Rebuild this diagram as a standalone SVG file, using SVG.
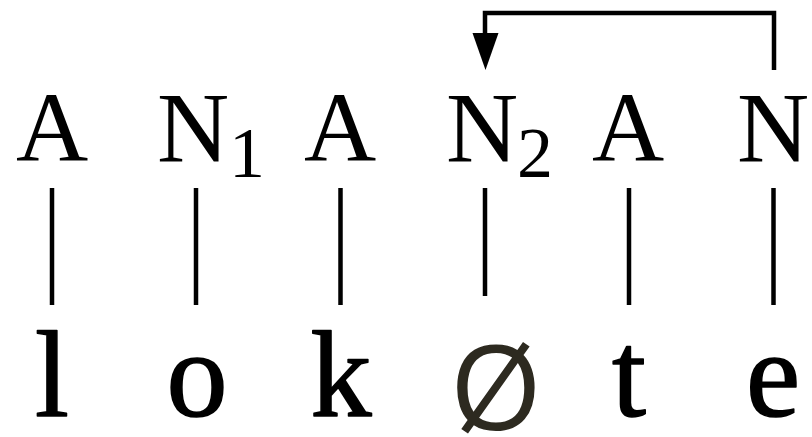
<svg xmlns="http://www.w3.org/2000/svg" width="812" height="437" viewBox="0 0 812 437">
<style>
.top{font-family:"Liberation Serif","Times New Roman",serif;font-size:100px;fill:#000;text-anchor:middle}
.sub{font-family:"Liberation Serif","Times New Roman",serif;font-size:72px;fill:#000;text-anchor:middle}
.bot{font-family:"Liberation Serif","Times New Roman",serif;font-size:122px;fill:#000;stroke:#000;stroke-width:1.6;stroke-linejoin:round;text-anchor:middle}
.null{font-family:"Open Sans","Noto Sans",sans-serif;font-size:118px;fill:#2d2a20;text-anchor:middle}
.ln{stroke:#000;stroke-width:4.5;fill:none}
</style>
<rect width="812" height="437" fill="#fff"/>
<g id="n1"><text class="top" x="52" y="161">A</text><text class="bot" x="52" y="416">l</text></g>
<g id="n2"><text class="top" x="193" y="161">N</text><text class="sub" x="247" y="177">1</text><text class="bot" x="197" y="416">o</text></g>
<g id="n3"><text class="top" x="340" y="161">A</text><text class="bot" x="341" y="416">k</text></g>
<g id="n4"><text class="top" x="482" y="161">N</text><text class="sub" x="535" y="177">2</text><text class="null" x="496" y="430">Ø</text></g>
<g id="n5"><text class="top" x="628" y="161">A</text><text class="bot" x="629" y="416">t</text></g>
<g id="n6"><text class="top" x="773" y="161">N</text><text class="bot" x="773" y="416">e</text></g>
<g id="connectors">
<line class="ln" x1="52" y1="188" x2="52" y2="305"/>
<line class="ln" x1="196" y1="188" x2="196" y2="305"/>
<line class="ln" x1="340.5" y1="188" x2="340.5" y2="305"/>
<line class="ln" x1="485" y1="188" x2="485" y2="296"/>
<line class="ln" x1="629" y1="188" x2="629" y2="305"/>
<line class="ln" x1="773.5" y1="188" x2="773.5" y2="305"/>
<path class="ln" d="M774,70 V13 H485 V36" stroke-linejoin="miter"/>
<polygon points="472.5,33 498.5,33 485.5,70" fill="#000"/>
</g>
</svg>
